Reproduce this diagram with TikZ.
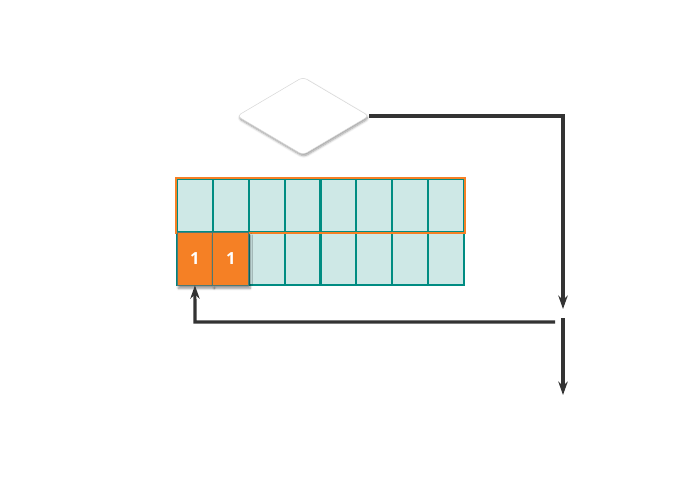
\documentclass[tikz,border=0pt]{standalone}
\usepackage{fontspec}
\setsansfont{Open Sans}
\usetikzlibrary{shapes.geometric,arrows.meta,shadows.blur}

\definecolor{cellteal}{RGB}{0,140,130}
\definecolor{cellfill}{RGB}{206,232,230}
\definecolor{hiorange}{RGB}{245,128,37}
\definecolor{flowgray}{RGB}{51,51,51}

\tikzset{
  cell/.style={draw=cellteal, fill=cellfill, line width=1.6pt, inner sep=0pt,
    minimum width=26.9pt, minimum height=39.75pt},
  hicell/.style={cell, draw=cellteal!45!black!70, line width=0.6pt, fill=hiorange,
    text=white, font=\sffamily\bfseries\fontsize{12.5}{14}\selectfont,
    blur shadow={shadow xshift=1pt, shadow yshift=-2.5pt, shadow blur steps=6, shadow opacity=45}},
  flow/.style={draw=flowgray, line width=2.3pt, -{Stealth[length=10pt,width=7pt]}},
}

\begin{document}
\begin{tikzpicture}[x=0.75pt,y=-0.75pt]
      \useasboundingbox (0,0) rectangle (680,490);

      % Rombo della decisione
      \node[diamond, draw=gray!30, fill=white, rounded corners=3pt, inner sep=0pt,
        minimum width=99pt, minimum height=58.5pt,
        blur shadow={shadow xshift=0.5pt, shadow yshift=-1.5pt, shadow blur steps=6, shadow opacity=40}]
        (dec) at (303,116) {};

      % Riga superiore e riga inferiore
      \foreach \i in {0,...,7} {
        \node[cell] (t\i) at ({194.94+35.875*\i},205.5) {};
        \node[cell] (b\i) at ({194.94+35.875*\i},258.5) {};
      }
      \draw[hiorange, line width=1.6pt] (t0.north west) rectangle (t7.south east);

      % Celle evidenziate
      \node[hicell] (h0) at (b0) {1};
      \node[hicell] (h1) at (b1) {1};

      % Punti di svolta
      \coordinate (c1) at (563,116);
      \coordinate (c2) at (563,309);
      \coordinate (s1) at (563,318);
      \coordinate (s2) at (555,322);
      \coordinate (c3) at (195,322);
      \coordinate (out) at (563,395);

      % Collegamenti
      \draw[flow] (dec.east) -- (c1) -- (c2);
      \draw[flow] (s2) -- (c3) -- (h0.south);
      \draw[flow] (s1) -- (out);
\end{tikzpicture}
\end{document}
